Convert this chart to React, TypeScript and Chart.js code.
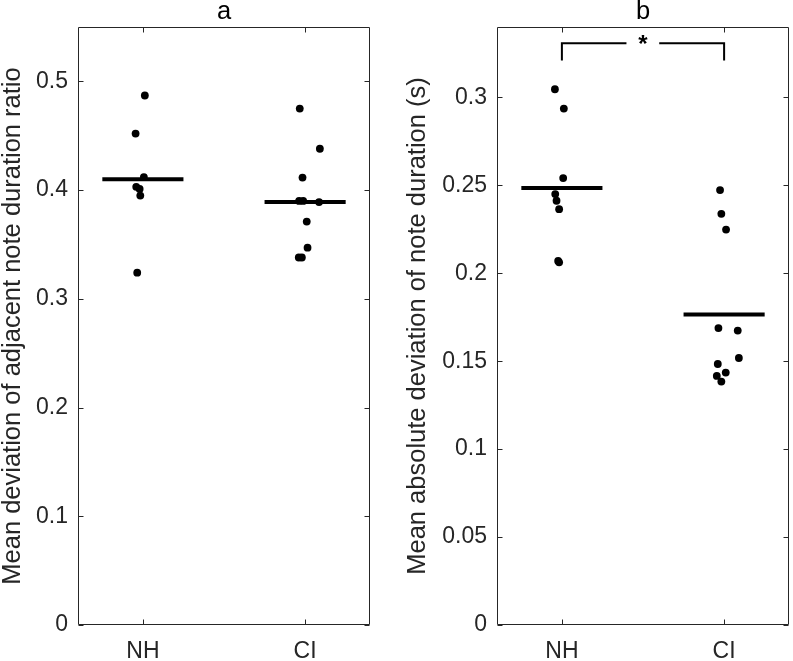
import React, { useEffect, useRef } from "react";
import { Chart, registerables } from "chart.js";

Chart.register(...registerables);

// ---------- data ----------
const groups = ["NH", "CI"];
const groupPos = [1, 2];

// panel a: mean deviation of adjacent note duration ratio
const aNHValues = [0.487, 0.452, 0.412, 0.403, 0.401, 0.395, 0.324];
const aNHJitter = [0.012, -0.045, 0.006, -0.041, -0.02, -0.016, -0.035];
const aCIValues = [0.475, 0.438, 0.4115, 0.39, 0.39, 0.389, 0.371, 0.347, 0.338, 0.338];
const aCIJitter = [-0.033, 0.091, -0.016, -0.037, -0.012, 0.086, 0.01, 0.015, -0.039, -0.02];
const aMeans = [0.41, 0.389];
const aTicks = [0, 0.1, 0.2, 0.3, 0.4, 0.5];
const aYMax = 0.55;

// panel b: mean absolute deviation of note duration (s)
const bNHValues = [0.3046, 0.2936, 0.2541, 0.245, 0.2412, 0.2364, 0.207, 0.2062];
const bNHJitter = [-0.043, 0.012, 0.008, -0.041, -0.033, -0.017, -0.023, -0.017];
const bCIValues = [0.2473, 0.2338, 0.2248, 0.1688, 0.1674, 0.1518, 0.1484, 0.1435, 0.1416, 0.1384];
const bCIJitter = [-0.025, -0.017, 0.012, -0.035, 0.084, 0.091, -0.039, 0.01, -0.045, -0.017];
const bMeans = [0.2485, 0.1766];
const bTicks = [0, 0.05, 0.1, 0.15, 0.2, 0.25, 0.3];
const bYMax = 0.34;
const bBracketY = 0.3307;
const bBracketDrop = 0.321;
const bBracketGap = [1.398, 1.6];
const bBracketLabel = "*";

// ---------- styling ----------
const FONT = "'Liberation Sans', Arial, Helvetica, sans-serif";
const AX = "#262626";
const X_MIN = 0.6;
const X_MAX = 2.4;
const MEAN_HALF = 0.25;

const framePlugin = {
  id: "frame",
  afterDatasetsDraw(chart: any) {
    const { ctx, chartArea: ca, scales } = chart;
    const L = Math.round(ca.left) + 0.5;
    const R = Math.round(ca.right) - 0.5;
    const T = Math.round(ca.top) + 0.5;
    const B = Math.round(ca.bottom) - 0.5;
    const tl = 5;
    ctx.save();
    ctx.strokeStyle = AX;
    ctx.lineWidth = 1;
    ctx.beginPath();
    ctx.rect(L, T, R - L, B - T);
    for (const t of scales.y.ticks) {
      const y = Math.round(scales.y.getPixelForValue(t.value)) + 0.5;
      ctx.moveTo(L, y);
      ctx.lineTo(L + tl, y);
      ctx.moveTo(R, y);
      ctx.lineTo(R - tl, y);
    }
    for (const t of scales.x.ticks) {
      const x = Math.round(scales.x.getPixelForValue(t.value)) + 0.5;
      ctx.moveTo(x, B);
      ctx.lineTo(x, B - tl);
      ctx.moveTo(x, T);
      ctx.lineTo(x, T + tl);
    }
    ctx.stroke();
    ctx.restore();
  },
};

const bracketTextPlugin = {
  id: "bracketText",
  afterDatasetsDraw(chart: any, _args: any, opts: any) {
    if (!opts || !opts.text) return;
    const { ctx, scales } = chart;
    const x = scales.x.getPixelForValue((opts.from + opts.to) / 2);
    const y = scales.y.getPixelForValue(opts.y);
    ctx.save();
    ctx.fillStyle = "#000";
    ctx.font = `bold 24px ${FONT}`;
    ctx.textAlign = "center";
    ctx.textBaseline = "alphabetic";
    ctx.fillText(opts.text, x, y + 9);
    ctx.restore();
  },
};

function points(values: number[], jitter: number[], pos: number) {
  return values.map((v, i) => ({ x: pos + jitter[i], y: v }));
}

function meanLine(mean: number, pos: number) {
  return [
    { x: pos - MEAN_HALF, y: mean },
    { x: pos + MEAN_HALF, y: mean },
  ];
}

type PanelProps = {
  width: number;
  height: number;
  left: number;
  title: string;
  yLabel: string;
  yLabelPad: number;
  yAxisWidth: number;
  rightPad: number;
  yTicks: number[];
  yMax: number;
  nh: { values: number[]; jitter: number[] };
  ci: { values: number[]; jitter: number[] };
  means: number[];
  bracket?: { y: number; drop: number; gap: number[]; text: string };
};

function Panel(p: PanelProps) {
  const ref = useRef<HTMLCanvasElement | null>(null);
  useEffect(() => {
    if (!ref.current) return;
    const dot = {
      type: "scatter" as const,
      showLine: false,
      pointRadius: 3.9,
      pointBackgroundColor: "#000",
      pointBorderWidth: 0,
      borderWidth: 0,
    };
    const line = {
      type: "scatter" as const,
      showLine: true,
      pointRadius: 0,
      borderColor: "#000",
      borderWidth: 4,
      borderCapStyle: "butt" as const,
      fill: false,
    };
    const datasets: any[] = [
      { ...dot, data: points(p.nh.values, p.nh.jitter, groupPos[0]) },
      { ...dot, data: points(p.ci.values, p.ci.jitter, groupPos[1]) },
      { ...line, data: meanLine(p.means[0], groupPos[0]) },
      { ...line, data: meanLine(p.means[1], groupPos[1]) },
    ];
    if (p.bracket) {
      const br = p.bracket;
      const bl = {
        ...line,
        borderWidth: 2,
        borderJoinStyle: "miter" as const,
        borderCapStyle: "butt" as const,
      };
      datasets.push({
        ...bl,
        data: [
          { x: groupPos[0], y: br.drop },
          { x: groupPos[0], y: br.y },
          { x: br.gap[0], y: br.y },
        ],
      });
      datasets.push({
        ...bl,
        data: [
          { x: br.gap[1], y: br.y },
          { x: groupPos[1], y: br.y },
          { x: groupPos[1], y: br.drop },
        ],
      });
    }
    const chart = new Chart(ref.current, {
      type: "scatter",
      data: { datasets },
      plugins: [framePlugin, bracketTextPlugin],
      options: {
        animation: false,
        responsive: false,
        maintainAspectRatio: false,
        events: [],
        layout: { padding: { left: 0, right: p.rightPad, top: 0, bottom: 0 } },
        font: { family: FONT },
        plugins: {
          legend: { display: false },
          tooltip: { enabled: false },
          title: {
            display: true,
            text: p.title,
            color: "#000",
            fullSize: false,
            font: { family: FONT, size: 25.5, lineHeight: 0.9, weight: "normal" },
            padding: { top: 0, bottom: 4.05 },
          },
          bracketText: p.bracket
            ? { text: p.bracket.text, y: p.bracket.y, from: groupPos[0], to: groupPos[1] }
            : { text: "" },
        } as any,
        scales: {
          x: {
            type: "linear",
            min: X_MIN,
            max: X_MAX,
            grid: { display: false, drawTicks: false },
            border: { display: false },
            afterBuildTicks: (s: any) => {
              s.ticks = groupPos.map((v) => ({ value: v }));
            },
            afterFit: (s: any) => {
              s.height = 36;
            },
            ticks: {
              autoSkip: false,
              maxRotation: 0,
              padding: 13,
              color: AX,
              font: { family: FONT, size: 23 },
              callback: (v: any) => {
                const i = groupPos.indexOf(Number(v));
                return i >= 0 ? groups[i] : "";
              },
            },
          },
          y: {
            type: "linear",
            min: 0,
            max: p.yMax,
            grid: { display: false, drawTicks: false },
            border: { display: false },
            afterBuildTicks: (s: any) => {
              s.ticks = p.yTicks.map((v) => ({ value: v }));
            },
            afterFit: (s: any) => {
              s.width = p.yAxisWidth;
            },
            title: {
              display: true,
              text: p.yLabel,
              color: AX,
              font: { family: FONT, size: 25.5, lineHeight: 1 },
              padding: { top: p.yLabelPad, bottom: 0 },
            },
            ticks: {
              autoSkip: false,
              padding: 10,
              color: AX,
              font: { family: FONT, size: 23 },
              callback: (v: any) => String(+Number(v).toFixed(4)),
            },
          },
        },
      } as any,
    });
    return () => chart.destroy();
  }, []);
  return (
    <div style={{ position: "absolute", left: p.left, top: 0, width: p.width, height: p.height }}>
      <canvas ref={ref} width={p.width} height={p.height} style={{ display: "block" }} />
    </div>
  );
}

export default function App() {
  return (
    <div style={{ position: "absolute", left: 0, top: 0, width: 793, height: 661, background: "#fff" }}>
      <Panel
        left={0}
        width={396}
        height={661}
        title="a"
        yLabel="Mean deviation of adjacent note duration ratio"
        yLabelPad={0}
        yAxisWidth={78}
        rightPad={26}
        yTicks={aTicks}
        yMax={aYMax}
        nh={{ values: aNHValues, jitter: aNHJitter }}
        ci={{ values: aCIValues, jitter: aCIJitter }}
        means={aMeans}
      />
      <Panel
        left={396}
        width={397}
        height={661}
        title="b"
        yLabel="Mean absolute deviation of note duration (s)"
        yLabelPad={9}
        yAxisWidth={101}
        rightPad={3}
        yTicks={bTicks}
        yMax={bYMax}
        nh={{ values: bNHValues, jitter: bNHJitter }}
        ci={{ values: bCIValues, jitter: bCIJitter }}
        means={bMeans}
        bracket={{ y: bBracketY, drop: bBracketDrop, gap: bBracketGap, text: bBracketLabel }}
      />
    </div>
  );
}
